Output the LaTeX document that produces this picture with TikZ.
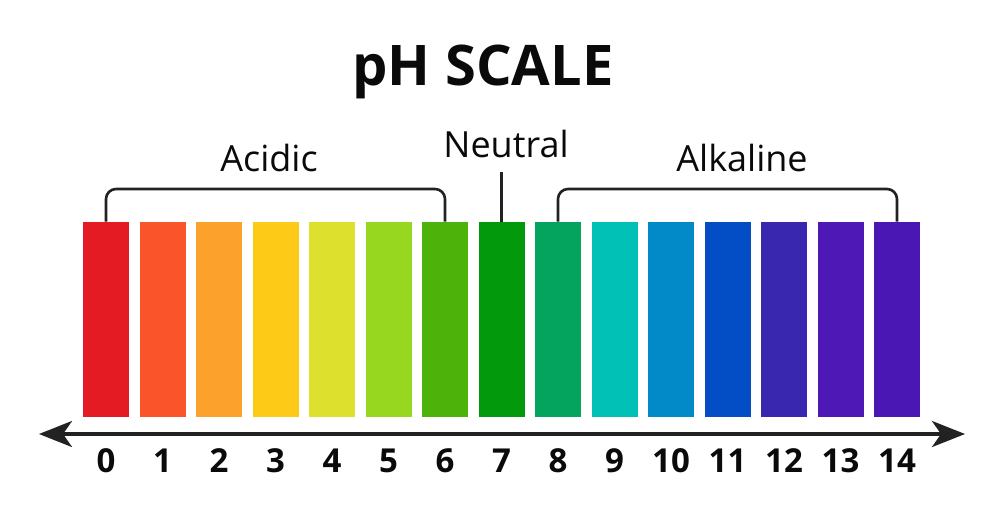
\documentclass[tikz,border=0pt]{standalone}
\usepackage{fontspec}
\setmainfont{Open Sans}
\usetikzlibrary{arrows.meta,positioning,calc}
\definecolor{fg}{HTML}{0A0A0A}
\definecolor{stroke}{HTML}{222222}
\definecolor{ph0}{HTML}{E51B24}
\definecolor{ph1}{HTML}{F9542A}
\definecolor{ph2}{HTML}{FCA12B}
\definecolor{ph3}{HTML}{FDCB17}
\definecolor{ph4}{HTML}{DDE02D}
\definecolor{ph5}{HTML}{97D720}
\definecolor{ph6}{HTML}{4DB30B}
\definecolor{ph7}{HTML}{029A0C}
\definecolor{ph8}{HTML}{04A45F}
\definecolor{ph9}{HTML}{01C0B6}
\definecolor{ph10}{HTML}{0189C8}
\definecolor{ph11}{HTML}{034DC5}
\definecolor{ph12}{HTML}{3A27B0}
\definecolor{ph13}{HTML}{4E18B6}
\definecolor{ph14}{HTML}{4A17B5}

\begin{document}
\begin{tikzpicture}[
  x=0.5pt, y=-0.5pt,
  every node/.append style={text=fg},
  bar/.style={draw=none, inner sep=0pt, minimum width=23pt, minimum height=97.5pt},
  num/.style={font=\fontsize{16.5}{18}\selectfont\bfseries, inner sep=0pt},
  lbl/.style={font=\fontsize{18}{20}\selectfont, inner sep=0pt},
  brk/.style={draw=stroke, line width=1.3pt, rounded corners=5pt},
  axis/.style={draw=stroke, line width=1.8pt, {Stealth[length=16.5pt, width=13pt, inset=4.5pt]}-{Stealth[length=16.5pt, width=13pt, inset=4.5pt]}},
]
\useasboundingbox[fill=white] (0,0) rectangle (1000,526);
% title
\node[font=\fontsize{28}{30}\selectfont\bfseries, inner sep=0pt] (title) at (483,72) {pH SCALE};
% coloured bars and their numbers
\foreach \i in {0,...,14} {
  \node[bar, fill=ph\i] (b\i) at (106+\i*56.5,319.5) {};
  \node[num] (n\i) at (106+\i*56.5,461) {\i};
}
% axis
\coordinate (axl) at (39,434);
\coordinate (axr) at (965,434);
\draw[axis] (axl) -- (axr);
% group labels
\node[lbl] (acidic) at (269,158) {Acidic};
\node[lbl] (neutral) at (506,144) {Neutral};
\node[lbl] (alkaline) at (742,158) {Alkaline};
% brackets
\coordinate (acidtop) at (276,189);
\coordinate (alktop) at (730,189);
\coordinate (neutop) at (505,172);
\draw[brk] (b0.north) |- (acidtop) -| (b6.north);
\draw[brk] (b8.north) |- (alktop) -| (b14.north);
\draw[brk] (b7.north) -- (b7.north |- neutop);
\end{tikzpicture}
\end{document}
